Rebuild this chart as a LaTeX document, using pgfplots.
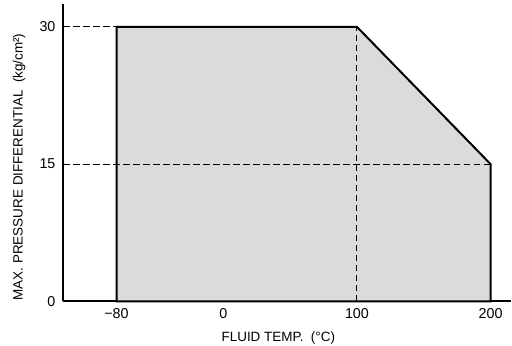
\documentclass[border=0pt]{standalone}
\usepackage{pgfplots}
\pgfplotsset{compat=1.18}
\usepackage{fontspec}
\setmainfont{Liberation Sans}
\begin{document}
\fontsize{9.4pt}{11pt}\selectfont
\begin{tikzpicture}
\begin{axis}[
  scale only axis,
  width=312.9pt, height=207.9pt,
  xmin=-120, xmax=215, ymin=0, ymax=32.5,
  axis lines=left,
  axis line style={line width=1.4pt, -},
  xtick={-80,0,100,200},
  xticklabels={−80,0,100,200},
  ytick={0,15,30},
  major tick length=0pt,
  /pgf/number format/assume math mode=true,
  tick label style={font=\fontsize{10pt}{11pt}\selectfont},
  xticklabel style={yshift=-2pt},
  yticklabel style={xshift=-2pt},
  xlabel={FLUID TEMP.\ \ (°C)},
  ylabel={MAX.\ PRESSURE DIFFERENTIAL\ \ (kg/cm²)},
  label style={font=\fontsize{9.4pt}{11pt}\selectfont},
  every axis x label/.style={at={(axis description cs:0.481,0)}, anchor=center, yshift=-25.9pt},
  every axis y label/.style={at={(axis description cs:-0.0984,0.452)}, anchor=center, rotate=90},
  clip=false,
]
\addplot[draw=none, fill=gray!28] coordinates {(-80,0) (-80,30) (100,30) (200,15) (200,0)} -- cycle;
\addplot[black, line width=0.7pt, dash pattern=on 4.5pt off 2.5pt] coordinates {(-120,30) (-80,30)};
\addplot[black, line width=0.7pt, dash pattern=on 4.5pt off 2.5pt] coordinates {(-120,15) (200,15)};
\addplot[black, line width=0.7pt, dash pattern=on 4.5pt off 2.5pt] coordinates {(100,0) (100,30)};
\addplot[black, line width=1.4pt] coordinates {(-80,0) (-80,30) (100,30) (200,15) (200,0)} -- cycle;
\end{axis}
\pgfresetboundingbox
\useasboundingbox (-44.1pt,-30.8pt) rectangle (313.9pt,210.7pt);
\end{tikzpicture}
\end{document}
